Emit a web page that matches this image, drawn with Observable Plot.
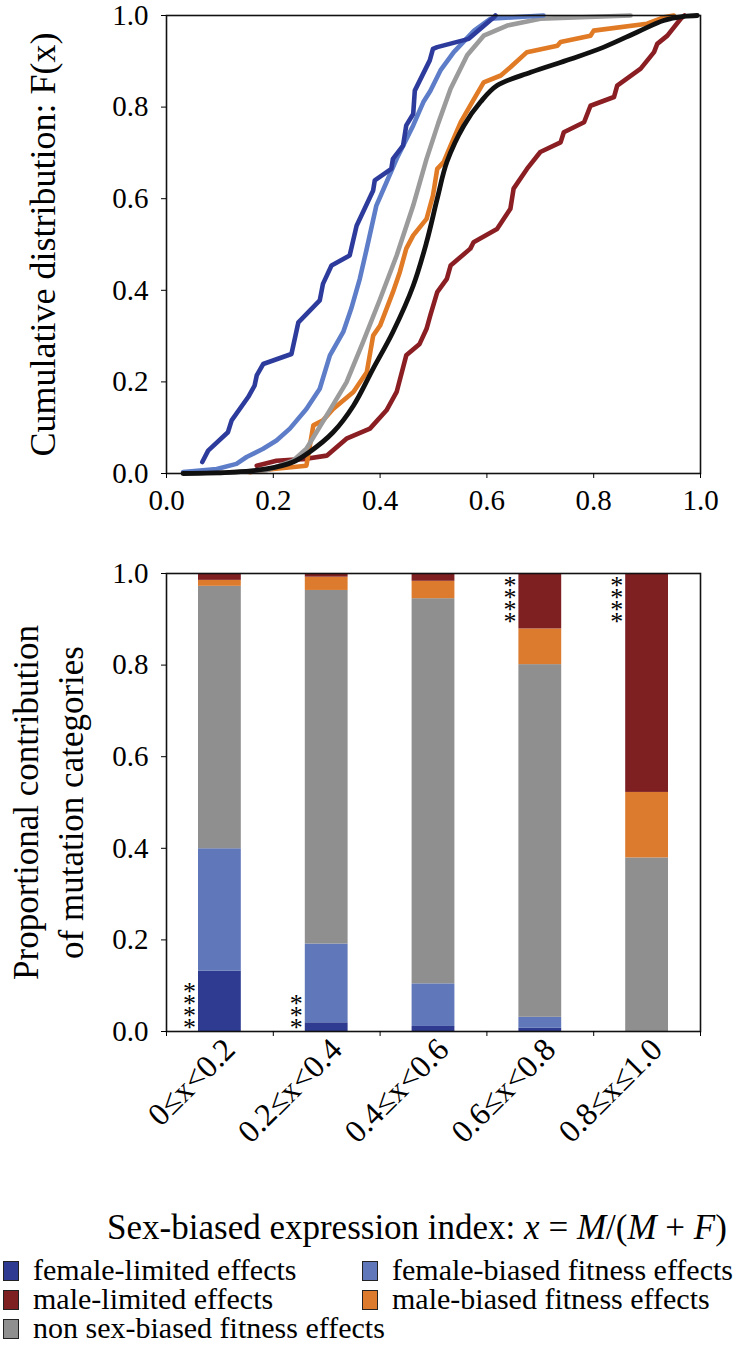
<!DOCTYPE html>
<html><head><meta charset="utf-8">
<script src="https://cdn.jsdelivr.net/npm/d3@7"></script>
<script src="https://cdn.jsdelivr.net/npm/@observablehq/plot@0.6"></script>
<style>
body{margin:0;background:#fff;font-family:"Liberation Serif",serif;color:#000;}
#wrap{position:relative;width:747px;height:1359px;overflow:hidden;}
#top{position:absolute;left:0;top:0;}
#bottom{position:absolute;left:0;top:533px;}
#title{position:absolute;left:0;width:834px;top:1207px;text-align:center;font-size:35px;line-height:42px;white-space:nowrap;}
.leg{position:absolute;font-size:30px;line-height:30px;white-space:nowrap;}
.sw{position:absolute;width:16px;height:20px;border:1px solid #222;box-sizing:border-box;}
i{font-style:italic;}
</style></head>
<body><div id="wrap"><div id="top"></div><div id="bottom"></div>
<div id="title">Sex-biased expression index: <i>x</i> = <i>M</i>/(<i>M</i> + <i>F</i>)</div>
<div id="legend"></div></div>
<script>
// ---- Top panel: cumulative distributions, [x, F(x)] pairs ----
const femaleLimitedCDF = [[0.067,0.025],[0.078,0.050],[0.115,0.090],[0.122,0.116],[0.153,0.167],[0.165,0.192],[0.169,0.214],[0.181,0.239],[0.234,0.261],[0.247,0.330],[0.287,0.378],[0.293,0.414],[0.309,0.454],[0.343,0.476],[0.356,0.541],[0.387,0.618],[0.390,0.640],[0.421,0.665],[0.424,0.687],[0.443,0.716],[0.449,0.760],[0.462,0.785],[0.465,0.836],[0.493,0.902],[0.499,0.927],[0.507,0.931],[0.566,0.949],[0.613,0.996],[0.616,1.0]];
const femaleBiasedCDF = [[0.031,0.003],[0.094,0.010],[0.131,0.021],[0.150,0.036],[0.181,0.054],[0.206,0.072],[0.231,0.098],[0.262,0.141],[0.287,0.185],[0.306,0.258],[0.331,0.309],[0.346,0.360],[0.362,0.425],[0.375,0.491],[0.393,0.585],[0.412,0.636],[0.431,0.687],[0.462,0.760],[0.481,0.811],[0.494,0.835],[0.513,0.880],[0.538,0.920],[0.576,0.967],[0.607,0.993],[0.706,1.0]];
const nonBiasedCDF = [[0.100,0.001],[0.187,0.007],[0.237,0.028],[0.262,0.054],[0.300,0.127],[0.337,0.199],[0.368,0.287],[0.400,0.381],[0.431,0.476],[0.462,0.585],[0.487,0.687],[0.509,0.765],[0.532,0.840],[0.563,0.913],[0.594,0.956],[0.638,0.978],[0.700,0.993],[0.869,1.0]];
const maleBiasedCDF = [[0.156,0.003],[0.200,0.010],[0.262,0.017],[0.275,0.105],[0.293,0.116],[0.312,0.141],[0.350,0.178],[0.375,0.221],[0.387,0.301],[0.400,0.323],[0.424,0.396],[0.437,0.440],[0.449,0.491],[0.462,0.520],[0.487,0.556],[0.499,0.607],[0.507,0.665],[0.519,0.680],[0.532,0.716],[0.551,0.767],[0.576,0.818],[0.594,0.854],[0.626,0.869],[0.644,0.887],[0.675,0.920],[0.732,0.934],[0.738,0.942],[0.794,0.956],[0.800,0.967],[0.900,0.982],[0.931,0.996],[0.950,1.0]];
const maleLimitedCDF = [[0.169,0.017],[0.206,0.028],[0.262,0.032],[0.300,0.039],[0.337,0.076],[0.381,0.098],[0.412,0.138],[0.431,0.178],[0.449,0.258],[0.474,0.283],[0.487,0.316],[0.494,0.345],[0.507,0.396],[0.525,0.425],[0.532,0.454],[0.569,0.491],[0.575,0.505],[0.619,0.534],[0.644,0.578],[0.650,0.622],[0.675,0.665],[0.700,0.702],[0.738,0.723],[0.744,0.745],[0.782,0.767],[0.794,0.803],[0.838,0.822],[0.844,0.847],[0.888,0.884],[0.913,0.920],[0.919,0.938],[0.938,0.956],[0.963,0.993],[0.970,1.0]];
const allMutationsCDF = [[0.031,0.000],[0.125,0.003],[0.187,0.010],[0.237,0.025],[0.268,0.047],[0.312,0.090],[0.350,0.148],[0.387,0.229],[0.424,0.309],[0.462,0.410],[0.487,0.505],[0.507,0.600],[0.525,0.680],[0.557,0.760],[0.588,0.811],[0.619,0.847],[0.682,0.876],[0.757,0.905],[0.819,0.931],[0.882,0.964],[0.931,0.989],[0.969,0.998],[0.994,1.0]];

// ---- Bottom panel: proportional contributions per bin ----
const binLabels = ["0≤x<0.2","0.2≤x<0.4","0.4≤x<0.6","0.6≤x<0.8","0.8≤x≤1.0"];
const binLo = [0.0,0.2,0.4,0.6,0.8];
const binHi = [0.2,0.4,0.6,0.8,1.0];
const femaleLimitedShare = [0.132,0.019,0.011,0.007,0.000];
const femaleBiasedShare  = [0.267,0.172,0.093,0.024,0.000];
const nonBiasedShare     = [0.573,0.772,0.841,0.770,0.379];
const maleBiasedShare    = [0.013,0.029,0.038,0.078,0.143];
const maleLimitedShare   = [0.015,0.008,0.017,0.121,0.478];
const significance = ["****","***","","****","****"];
const significanceAtTop = [false,false,false,true,true];

const categories = ["female-limited effects","female-biased fitness effects","non sex-biased fitness effects","male-biased fitness effects","male-limited effects"];
const barColors = ["#2F3B90","#6077BA","#8F8F8F","#DC7B2E","#7E1F22"];
const lineColors = {fl:"#2D3C9C", fb:"#5E7DC8", non:"#9B9B9B", mb:"#E07A25", ml:"#8A1E22", all:"#111111"};
const tickValues = [0,0.2,0.4,0.6,0.8,1.0];

const fmt = d3.format(".1f");
const serif = '"Liberation Serif", serif';

function richText(el, parts){
  el.textContent = "";
  for (const [t, it] of parts){
    const ts = document.createElementNS("http://www.w3.org/2000/svg","tspan");
    ts.textContent = t;
    if (it) ts.setAttribute("font-style","italic");
    el.appendChild(ts);
  }
}

// ---------- top chart ----------
const pts = (arr) => arr.map(([x,F]) => ({x, F}));
const lw = 4.6;
const topPlot = Plot.plot({
  width: 747, height: 533,
  marginLeft: 166, marginRight: 47, marginTop: 15, marginBottom: 60,
  style: {fontFamily: serif, fontSize: "29px", color: "#000", background: "#fff"},
  x: {domain: [0,1]}, y: {domain: [0,1]},
  marks: [
    Plot.line(pts(maleLimitedCDF), {x:"x", y:"F", stroke: lineColors.ml, strokeWidth: lw}),
    Plot.line(pts(maleBiasedCDF), {x:"x", y:"F", stroke: lineColors.mb, strokeWidth: lw}),
    Plot.line(pts(nonBiasedCDF), {x:"x", y:"F", stroke: lineColors.non, strokeWidth: lw}),
    Plot.line(pts(femaleBiasedCDF), {x:"x", y:"F", stroke: lineColors.fb, strokeWidth: lw}),
    Plot.line(pts(femaleLimitedCDF), {x:"x", y:"F", stroke: lineColors.fl, strokeWidth: lw}),
    Plot.line(pts(allMutationsCDF), {x:"x", y:"F", stroke: lineColors.all, strokeWidth: 4.8, curve: "catmull-rom"}),
    Plot.frame({stroke: "#111", strokeWidth: 1.6}),
    Plot.axisX({ticks: tickValues, tickFormat: fmt, tickSize: 5, tickPadding: 11, label: null}),
    Plot.axisY({ticks: tickValues, tickFormat: fmt, tickSize: 5, tickPadding: 13, label: null}),
    Plot.text(["Cumulative distribution: F(x)"], {frameAnchor: "left", rotate: -90, dx: -112, textAnchor: "middle", lineAnchor: "bottom", fontSize: 36, ariaLabel: "ylabel-top"})
  ]
});
document.getElementById("top").appendChild(topPlot);
topPlot.querySelectorAll('g[aria-label="ylabel-top"] text').forEach(el =>
  richText(el, [["Cumulative distribution: ", false], ["F", true], ["(", false], ["x", true], [")", false]]));

// ---------- bottom chart ----------
const shares = [femaleLimitedShare, femaleBiasedShare, nonBiasedShare, maleBiasedShare, maleLimitedShare];
const barTable = [];
binLabels.forEach((lab, i) => {
  let acc = 0;
  shares.forEach((s, k) => {
    barTable.push({lo: binLo[i], hi: binHi[i], y1: acc, y2: acc + s[i], cat: categories[k]});
    acc += s[i];
  });
});
const binTable = binLabels.map((label, i) => ({label, mid: (binLo[i] + binHi[i]) / 2, lo: binLo[i],
  stars: significance[i].split("").join("\n"), top: significanceAtTop[i]}));

const bottomPlot = Plot.plot({
  width: 747, height: 640,
  marginLeft: 166, marginRight: 47, marginTop: 40, marginBottom: 142,
  style: {fontFamily: serif, fontSize: "29px", color: "#000", background: "#fff"},
  x: {domain: [0,1]}, y: {domain: [0,1]},
  color: {domain: categories, range: barColors},
  marks: [
    Plot.rect(barTable.filter(d => d.y2 > d.y1), {x1: "lo", x2: "hi", y1: "y1", y2: "y2", fill: "cat", insetLeft: 32, insetRight: 32}),
    Plot.frame({stroke: "#111", strokeWidth: 1.6}),
    Plot.axisX({ticks: tickValues, tickFormat: () => "", tickSize: 5, label: null}),
    Plot.axisY({ticks: tickValues, tickFormat: fmt, tickSize: 5, tickPadding: 13, label: null}),
    Plot.text(binTable, {x: "mid", text: "label", frameAnchor: "bottom", rotate: -45, textAnchor: "end", dx: 17, dy: 20, fontSize: 32, ariaLabel: "bin-labels"}),
    Plot.text(binTable.filter(d => !d.top && d.stars), {x: "lo", y: () => 0, text: "stars", dx: 23, dy: 4, lineAnchor: "bottom", fontSize: 26, lineHeight: 0.46, fill: "#000"}),
    Plot.text(binTable.filter(d => d.top && d.stars), {x: "lo", y: () => 1, text: "stars", dx: 23, dy: 12, lineAnchor: "top", fontSize: 26, lineHeight: 0.46, fill: "#000"}),
    Plot.text(["Proportional contribution\nof mutation categories"], {frameAnchor: "left", rotate: -90, dx: -84, textAnchor: "middle", lineAnchor: "bottom", fontSize: 35, lineHeight: 1.28})
  ]
});
document.getElementById("bottom").appendChild(bottomPlot);
bottomPlot.querySelectorAll('g[aria-label="bin-labels"] text').forEach(el => {
  const t = el.textContent;
  const parts = [];
  t.split("x").forEach((seg, j, arr) => { parts.push([seg, false]); if (j < arr.length - 1) parts.push(["x", true]); });
  richText(el, parts);
  el.setAttribute("letter-spacing", "1.5");
});

// ---------- legend ----------
const legendLayout = [
  {k: 0, left: 3, cy: 1270}, {k: 1, left: 362, cy: 1270},
  {k: 4, left: 3, cy: 1299}, {k: 3, left: 362, cy: 1299},
  {k: 2, left: 3, cy: 1328}
];
const leg = document.getElementById("legend");
legendLayout.forEach(({k, left, cy}) => {
  const sw = document.createElement("div");
  sw.className = "sw"; sw.style.left = left + "px"; sw.style.top = (cy - 9) + "px"; sw.style.background = barColors[k];
  leg.appendChild(sw);
  const tx = document.createElement("div");
  tx.className = "leg"; tx.style.left = (left + 30) + "px"; tx.style.top = (cy - 15) + "px"; tx.textContent = categories[k];
  leg.appendChild(tx);
});
</script></body></html>
